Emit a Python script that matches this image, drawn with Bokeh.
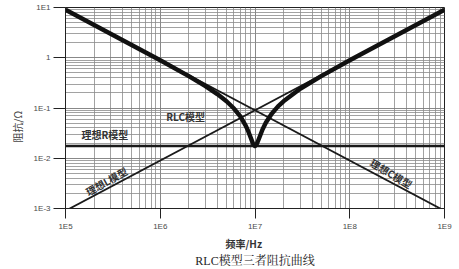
from bokeh.plotting import figure
from bokeh.models import FixedTicker, CustomJSTickFormatter, Title
from bokeh.core.properties import value
from bokeh.embed import file_html
from bokeh.resources import INLINE

# Axis decades (frequency in Hz, impedance in ohm)
x_ticks = [1e5, 1e6, 1e7, 1e8, 1e9]
y_ticks = [1e-3, 1e-2, 1e-1, 1.0, 1e1]

# Ideal resistor: flat impedance
r_freq = [1e5, 1e9]
r_imp = [0.0175, 0.0175]

# Ideal inductor: rises one decade per decade
l_freq = [1e5, 1e9]
l_imp = [9e-4, 9.0]

# Ideal capacitor: falls one decade per decade
c_freq = [1e5, 1e9]
c_imp = [9.0, 9e-4]

# Series RLC impedance curve, dipping to R at resonance
rlc_freq = [1e5, 1e6, 2e6, 3e6, 4e6, 5e6, 6e6, 7e6, 8e6, 8.5e6, 9e6, 9.5e6,
            1e7, 1.05e7, 1.1e7, 1.2e7, 1.3e7, 1.5e7, 1.75e7, 2e7, 3e7, 5e7,
            1e8, 1e9]
rlc_imp = [9.0, 0.891, 0.432, 0.273, 0.189, 0.136, 0.0976, 0.0679, 0.0441,
           0.0342, 0.0258, 0.0198, 0.0175, 0.0196, 0.0245, 0.0374, 0.0509,
           0.077, 0.1075, 0.136, 0.241, 0.432, 0.891, 9.0]

# Curve annotations
note_text = ["RLC模型", "理想R模型", "理想L模型", "理想C模型"]
note_freq = [1.85e6, 2.6e5, 2.7e5, 2.75e8]
note_imp = [0.069, 0.030, 0.0035, 0.005]
note_angle = [0, 0, 29, -31]

CJK = "Noto Sans CJK SC"

p = figure(width=459, height=269, x_axis_type="log", y_axis_type="log",
           x_range=(1e5, 1e9), y_range=(1e-3, 1e1),
           output_backend="svg", toolbar_location=None,
           min_border_left=65, min_border_right=15,
           min_border_top=7, min_border_bottom=61)
p.background_fill_color = "white"
p.border_fill_color = "white"
p.outline_line_color = "#222222"
p.outline_line_width = 1

minor_x = [m * 10 ** e for e in range(5, 9) for m in range(2, 10)]
minor_y = [m * 10 ** e for e in range(-3, 1) for m in range(2, 10)]
xt = FixedTicker(ticks=x_ticks, minor_ticks=minor_x)
yt = FixedTicker(ticks=y_ticks, minor_ticks=minor_y)

fmt_code = """
const e = Math.round(Math.log10(tick));
return e === 0 ? "1" : "1E" + e;
"""
for ax, tk in ((p.xaxis[0], xt), (p.yaxis[0], yt)):
    ax.ticker = tk
    ax.formatter = CustomJSTickFormatter(code=fmt_code)
    ax.axis_line_color = "#222222"
    ax.major_tick_line_color = "#222222"
    ax.major_tick_in = 0
    ax.minor_tick_in = 0
    ax.minor_tick_out = 0
    ax.major_label_text_font = "Liberation Sans"
    ax.major_label_text_font_size = "8px"
    ax.major_label_text_color = "#4a4a4a"
    ax.major_label_standoff = 3
p.xaxis.major_tick_out = 10
p.yaxis.major_tick_out = 12

for g, tk in ((p.xgrid[0], xt), (p.ygrid[0], yt)):
    g.ticker = tk
    g.grid_line_color = "#7a7a7a"
    g.grid_line_width = 0.9
    g.minor_grid_line_color = "#8a8a8a"
    g.minor_grid_line_width = 0.8

# Ideal component lines
p.line(r_freq, r_imp, line_color="#1a1a1a", line_width=2.4)
p.line(l_freq, l_imp, line_color="#1a1a1a", line_width=1.8)
p.line(c_freq, c_imp, line_color="#1a1a1a", line_width=1.8)
# RLC curve
p.line(rlc_freq, rlc_imp, line_color="#111111", line_width=4.4,
       line_join="round")

p.text(x=note_freq, y=note_imp, text=note_text, angle=note_angle,
       angle_units="deg", text_align="center", text_baseline="middle",
       text_font=value(CJK), text_font_size="10px", text_font_style="bold",
       text_color="#333333")

# Axis titles and caption
p.add_layout(Title(text="阻抗/Ω", align="left", offset=66, standoff=12,
                   text_font=CJK, text_font_size="10px",
                   text_font_style="normal", text_color="#444444"), "left")
p.add_layout(Title(text="频率/Hz", align="left", offset=160, standoff=1,
                   text_font=CJK, text_font_size="10px",
                   text_font_style="bold", text_color="#333333"), "below")
p.add_layout(Title(text="RLC模型三者阻抗曲线", align="center",
                   standoff=1,
                   text_font="Liberation Serif, Noto Serif CJK SC, serif",
                   text_font_size="12px", text_font_style="normal",
                   text_color="#222222"), "below")

open("out.html", "w").write(file_html(p, INLINE))
